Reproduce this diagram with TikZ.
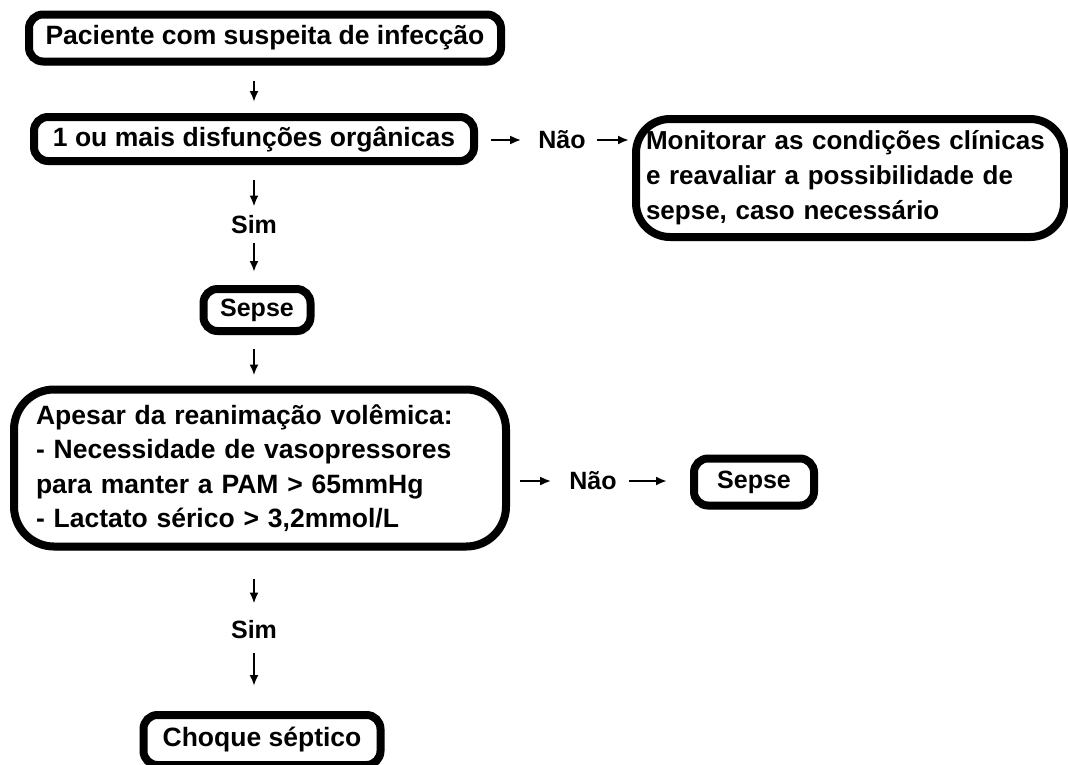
\documentclass[tikz,border=0pt]{standalone}
\usepackage{fontspec}
\setmainfont{Liberation Sans}
\usepackage{tikz}
\usetikzlibrary{arrows.meta,shadows}

\begin{document}
\begin{tikzpicture}[x=1pt,y=-1pt,
    box/.style={draw, line width=8pt, rounded corners=14pt, fill=white,
        inner sep=0pt, font=\bfseries\fontsize{26.5}{34.5}\selectfont,
        drop shadow={opacity=0.35, shadow xshift=2pt, shadow yshift=-4pt}},
    lbl/.style={inner sep=2pt, font=\bfseries\fontsize{25}{28}\selectfont},
    arr/.style={-{Latex[length=11pt,width=9pt]}, line width=2.5pt}]
    \useasboundingbox (0,0) rectangle (1068,764);

    % boxes
    \node[box, minimum width=472pt, minimum height=47pt] (infec) at (265,38)
        {Paciente com suspeita de infecção};
    \node[box, minimum width=440pt, minimum height=44pt] (disf) at (254,139)
        {1 ou mais disfunções orgânicas};
    \node[box, rounded corners=34pt, minimum width=428pt, minimum height=118pt,
        text width=408pt, align=left, font=\bfseries\fontsize{26}{35}\selectfont]
        (monit) at (850,178)
        {Monitorar as condições clínicas\\ e reavaliar a possibilidade de\\ sepse, caso necessário};
    \node[box, minimum width=107pt, minimum height=42pt,
        font=\bfseries\fontsize{25}{30}\selectfont] (sepseA) at (257,310) {Sepse};
    \node[box, rounded corners=40pt, minimum width=492pt, minimum height=157pt,
        text width=448pt, align=left] (reanim) at (260,468)
        {Apesar da reanimação volêmica:\\ - Necessidade de vasopressores\\
         para manter a PAM > 65mmHg\\ - Lactato sérico > 3,2mmol/L};
    \node[box, minimum width=120pt, minimum height=47pt,
        font=\bfseries\fontsize{25}{30}\selectfont] (sepseB) at (754,482) {Sepse};
    \node[box, minimum width=237pt, minimum height=50pt] (choque) at (262,740)
        {Choque séptico};

    % labels
    \node[lbl] (naoA) at (562,140) {Não};
    \node[lbl] (simA) at (254,225) {Sim};
    \node[lbl] (naoB) at (593,481) {Não};
    \node[lbl] (simB) at (254,630) {Sim};

    % arrows
    \draw[arr, shorten <=15pt, shorten >=11pt] (infec.south -| simA) -- (disf.north -| simA);
    \draw[arr, shorten <=15pt, shorten >=7pt] (disf.south -| simA) -- (simA);
    \draw[arr, shorten <=7pt, shorten >=13pt] (simA) -- (sepseA.north -| simA);
    \draw[arr, shorten <=14pt, shorten >=10pt] (sepseA.south -| simA) -- (reanim.north -| simA);
    \draw[arr, shorten <=28pt, shorten >=15pt] (reanim.south -| simB) -- (simB);
    \draw[arr, shorten <=12pt, shorten >=25pt] (simB) -- (choque.north -| simB);
    \draw[arr, shorten <=13pt, shorten >=15pt] (disf.east |- naoA) -- (naoA);
    \draw[arr, shorten <=9pt, shorten >=3pt] (naoA) -- (monit.west |- naoA);
    \draw[arr, shorten <=10pt, shorten >=16pt] (reanim.east |- naoB) -- (naoB);
    \draw[arr, shorten <=10pt, shorten >=23pt] (naoB) -- (sepseB.west |- naoB);
\end{tikzpicture}
\end{document}
